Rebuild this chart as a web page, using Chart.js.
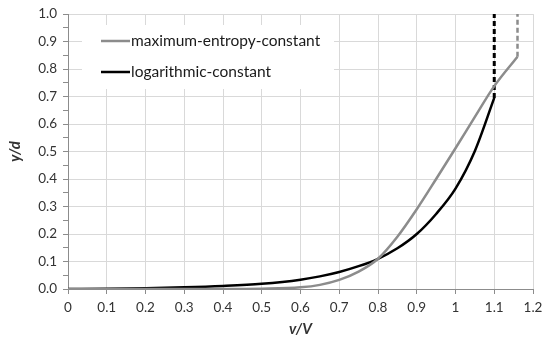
<!DOCTYPE html>
<html>
<head>
<meta charset="utf-8">
<script src="https://cdn.jsdelivr.net/npm/chart.js@4/dist/chart.umd.min.js"></script>
<style>
    body {margin: 0; background: #fff;}
</style>
</head>
<body>
<canvas class="profile-chart" width="550" height="345"></canvas>
<script>
//data
const vRatio = [0, 0.1, 0.2, 0.3, 0.4, 0.5, 0.6, 0.65, 0.7, 0.75, 0.8, 0.85, 0.9, 0.95, 1.0, 1.05, 1.1];
const logConst = [0, 0.001, 0.003, 0.006, 0.011, 0.019, 0.034, 0.046, 0.062, 0.083, 0.11, 0.148, 0.2, 0.273, 0.365, 0.502, 0.695];
const vRatioMax = [0, 0.1, 0.2, 0.3, 0.4, 0.5, 0.6, 0.65, 0.7, 0.75, 0.8, 0.85, 0.9, 0.95, 1.0, 1.05, 1.1, 1.16];
const maxEntropy = [0, 0, 0, 0, 0, 0.001, 0.006, 0.015, 0.033, 0.063, 0.11, 0.19, 0.29, 0.4, 0.512, 0.626, 0.738, 0.845];
// vertical dashed tails up to the surface
const logTail = [[1.1, 0.695], [1.1, 1.0]];
const maxTail = [[1.16, 0.845], [1.16, 1.0]];
const seriesNames = ['maximum-entropy-constant', 'logarithmic-constant'];

const toPoints = (xs, ys) => xs.map((x, i) => ({x: x, y: ys[i]}));
const tailPoints = (arr) => arr.map(p => ({x: p[0], y: p[1]}));

const grayColor = '#8c8c8c';
const blackColor = '#000000';
const fontFamily = 'Lato, "Open Sans", sans-serif';

// legend drawn as a white box inside the plot
const legendBox = {
    id: 'legendBox',
    beforeDatasetsDraw(chart) {
        const c = chart.ctx;
        c.save();
        c.fillStyle = '#ffffff';
        c.fillRect(82, 25, 252, 64);
        const rows = [{label: seriesNames[0], color: grayColor, y: 41},
            {label: seriesNames[1], color: blackColor, y: 72}];
        rows.forEach(r => {
            c.strokeStyle = r.color;
            c.lineWidth = 2.5;
            c.beginPath();
            c.moveTo(101, r.y);
            c.lineTo(130, r.y);
            c.stroke();
            c.fillStyle = '#1a1a1a';
            c.font = '15.5px ' + fontFamily;
            c.textBaseline = 'middle';
            c.fillText(r.label, 131, r.y);
        });
        c.restore();
    }
};

const ctx = document.querySelector('.profile-chart');
new Chart(ctx, {
    type: 'line',
    data: {
        datasets: [{
                label: seriesNames[0],
                data: toPoints(vRatioMax, maxEntropy),
                borderColor: grayColor,
                borderWidth: 2.5,
                pointRadius: 0,
                cubicInterpolationMode: 'monotone'
            }, {
                label: seriesNames[1],
                data: toPoints(vRatio, logConst),
                borderColor: blackColor,
                borderWidth: 2.5,
                pointRadius: 0,
                cubicInterpolationMode: 'monotone'
            }, {
                label: 'max-tail',
                data: tailPoints(maxTail),
                borderColor: grayColor,
                borderWidth: 2.5,
                borderDash: [5, 3],
                pointRadius: 0
            }, {
                label: 'log-tail',
                data: tailPoints(logTail),
                borderColor: blackColor,
                borderWidth: 3,
                borderDash: [5, 3],
                pointRadius: 0
            }]
    },
    options: {
        responsive: false,
        animation: false,
        layout: {padding: {left: 0, right: 17, top: 13, bottom: 0}},
        scales: {
            x: {
                type: 'linear',
                min: 0,
                max: 1.2,
                afterFit: (s) => { s.height = 56; },
                ticks: {
                    stepSize: 0.1,
                    autoSkip: false,
                    maxRotation: 0,
                    color: '#333',
                    font: {family: fontFamily, size: 13.5},
                    padding: 6,
                    callback: (v) => String(Math.round(v * 10) / 10)
                },
                grid: {color: '#d9d9d9', tickColor: '#8c8c8c', tickLength: 5},
                border: {color: '#8c8c8c'},
                title: {
                    display: true,
                    text: 'v/V',
                    color: '#333',
                    font: {family: fontFamily, size: 15, weight: 'bold', style: 'italic'},
                    padding: {top: 0, bottom: 7}
                }
            },
            y: {
                min: 0,
                max: 1.0,
                afterFit: (s) => { s.width = 68; },
                ticks: {
                    stepSize: 0.05,
                    autoSkip: false,
                    color: '#333',
                    font: {family: fontFamily, size: 13.5},
                    padding: 6,
                    callback: (v) => Math.round(v * 100) % 10 === 0 ? v.toFixed(1) : ''
                },
                grid: {
                    color: (c) => Math.round(c.tick.value * 100) % 10 === 0 ? '#d9d9d9' : 'rgba(0,0,0,0)',
                    tickColor: '#8c8c8c',
                    tickLength: 5
                },
                border: {color: '#8c8c8c'},
                title: {
                    display: true,
                    text: 'y/d',
                    color: '#333',
                    font: {family: fontFamily, size: 15, weight: 'bold', style: 'italic'},
                    padding: {top: 6, bottom: 0}
                }
            }
        },
        plugins: {
            legend: {display: false},
            tooltip: {enabled: false}
        }
    },
    plugins: [legendBox]
});
</script>
</body>
</html>
